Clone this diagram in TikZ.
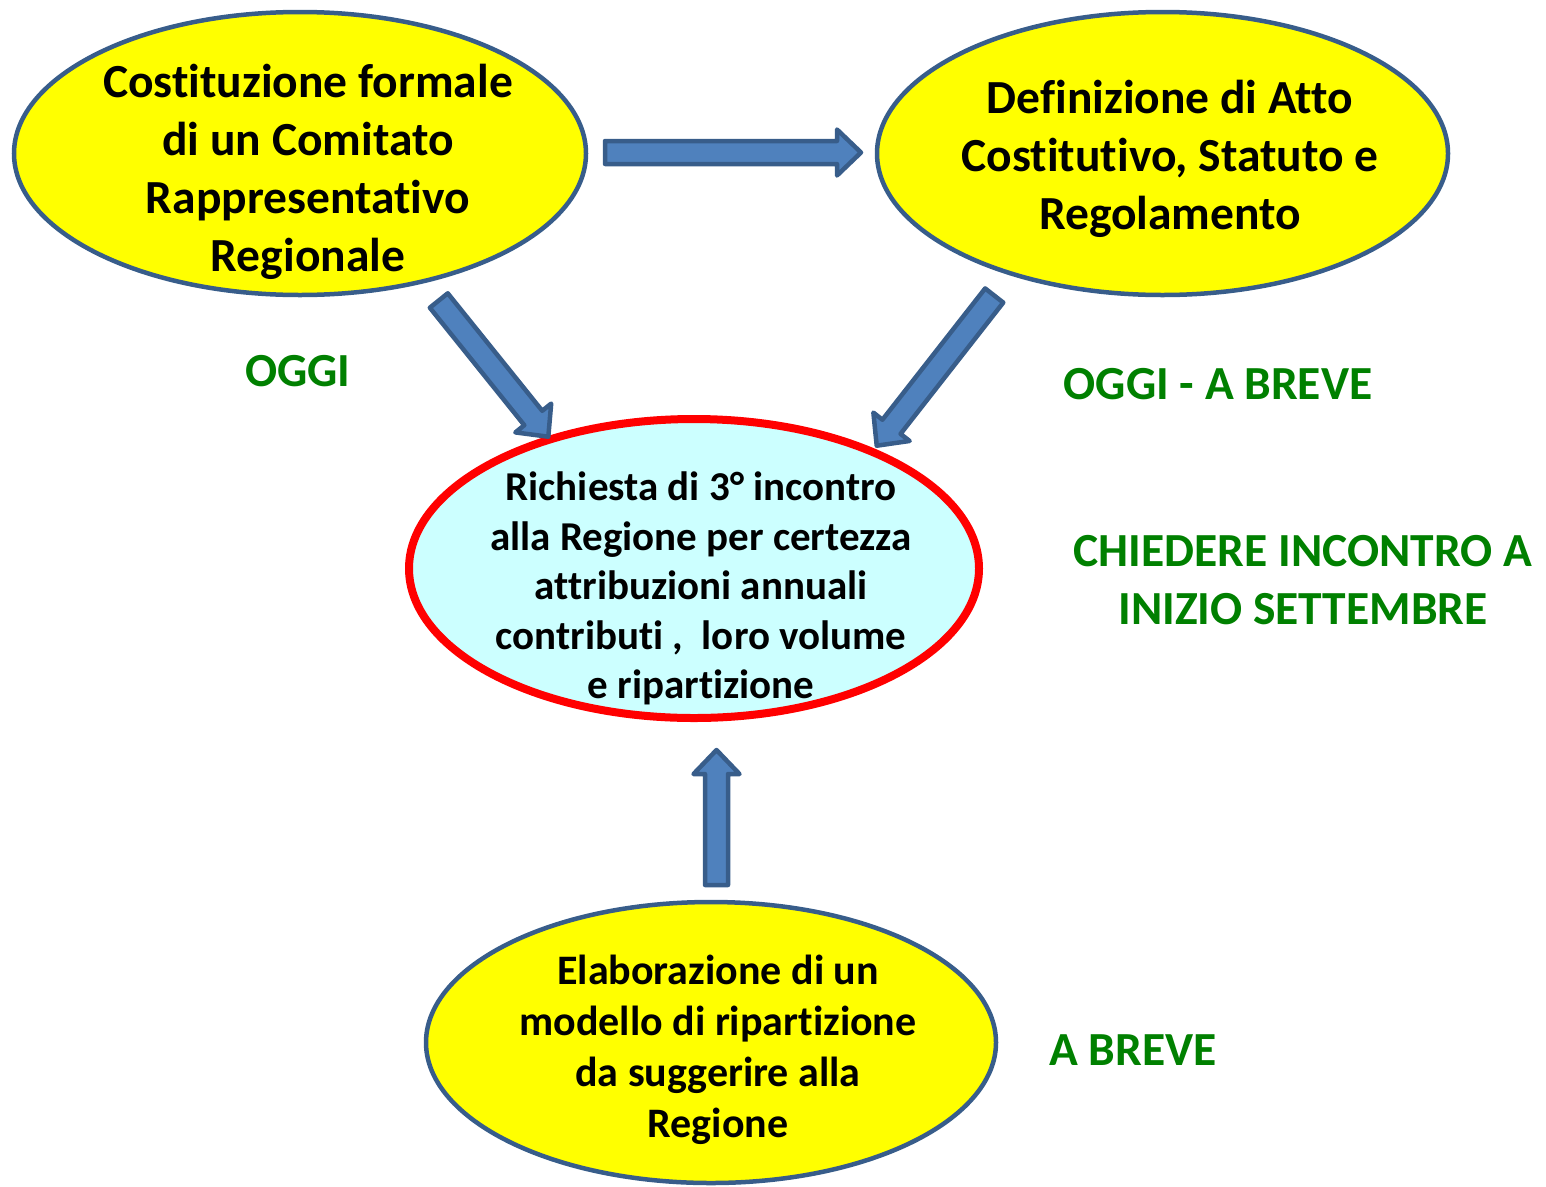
\documentclass[tikz,border=0pt]{standalone}
\usepackage{fontspec}
\setmainfont{Carlito}[RawFeature={-liga;-clig;-dlig}]
\usetikzlibrary{calc,shapes.geometric}
\definecolor{ptblue}{RGB}{79,129,189}
\definecolor{ptdark}{RGB}{56,93,138}
\definecolor{ptgreen}{RGB}{0,128,0}
\definecolor{ptcyan}{RGB}{204,255,255}
\definecolor{ptyellow}{RGB}{255,255,0}
\newcommand\blockarrow[2]{%
  \coordinate (hb) at ($(#2)!24pt!(#1)$);
  \draw[barrow] ($(#1)!11.5pt!-90:(#2)$) -- ($(hb)!11.5pt!-90:(#2)$) -- ($(hb)!23pt!-90:(#2)$) -- (#2)
    -- ($(hb)!23pt!90:(#2)$) -- ($(hb)!11.5pt!90:(#2)$) -- ($(#1)!11.5pt!90:(#2)$) -- cycle;}
\tikzset{
  yellowell/.style={ellipse, draw=ptdark, line width=4.5pt, fill=ptyellow, inner sep=0pt},
  redell/.style={ellipse, draw=red, line width=8pt, fill=ptcyan, inner sep=0pt},
  bigtext/.style={align=center, inner sep=0pt, font=\bfseries\fontsize{47.5}{58}\selectfont},
  midtext/.style={align=center, inner sep=0pt, font=\bfseries\fontsize{41}{49.5}\selectfont},
  bottext/.style={align=center, inner sep=0pt, font=\bfseries\fontsize{42}{51}\selectfont},
  greentext/.style={align=center, inner sep=0pt, text=ptgreen, font=\bfseries\fontsize{47.5}{58}\selectfont},
  barrow/.style={draw=ptdark, fill=ptblue, line width=4.5pt, line join=round}
}
\begin{document}
\begin{tikzpicture}[x=1pt, y=-1pt]
\useasboundingbox (0,0) rectangle (1546,1186);
% ellipses
\node[yellowell, minimum width=572pt, minimum height=283pt] (e1) at (300,153.5) {};
\node[yellowell, minimum width=571pt, minimum height=283pt] (e2) at (1162.5,153.5) {};
\node[redell, minimum width=570pt, minimum height=299pt] (e3) at (694,568.5) {};
\node[yellowell, minimum width=570pt, minimum height=281pt] (e4) at (711,1042.5) {};
% texts
\node[bigtext] (t1) at (308,171.5) {Costituzione formale\\di un Comitato\\Rappresentativo\\Regionale};
\node[bigtext] (t2) at (1170,158.5) {Definizione di Atto\\Costitutivo, Statuto e\\Regolamento};
\node[midtext] (t3) at (701,588.5) {Richiesta di 3° incontro\\alla Regione per certezza\\attribuzioni annuali\\contributi ,\ \ loro volume\\e ripartizione};
\node[bottext] (t4) at (718,1050) {Elaborazione di un\\modello di ripartizione\\da suggerire alla\\Regione};
% green labels
\node[greentext] (g1) at (298,371) {OGGI};
\node[greentext] (g2) at (1218,384) {OGGI - A BREVE};
\node[greentext] (g3) at (1303,580) {CHIEDERE INCONTRO A\\INIZIO SETTEMBRE};
\node[greentext] (g4) at (1133,1050) {A BREVE};
% arrow end points
\coordinate (a1s) at (605,152.5);
\coordinate (a1e) at (861,152.5);
\coordinate (a2s) at (438.8,300.5);
\coordinate (a2e) at (548.3,436.7);
\coordinate (a3s) at (994.2,295.5);
\coordinate (a3e) at (876.7,445.7);
\coordinate (a4s) at (716.5,885);
\coordinate (a4e) at (716.5,750);
\blockarrow{a1s}{a1e}
\blockarrow{a2s}{a2e}
\blockarrow{a3s}{a3e}
\blockarrow{a4s}{a4e}
\end{tikzpicture}
\end{document}
